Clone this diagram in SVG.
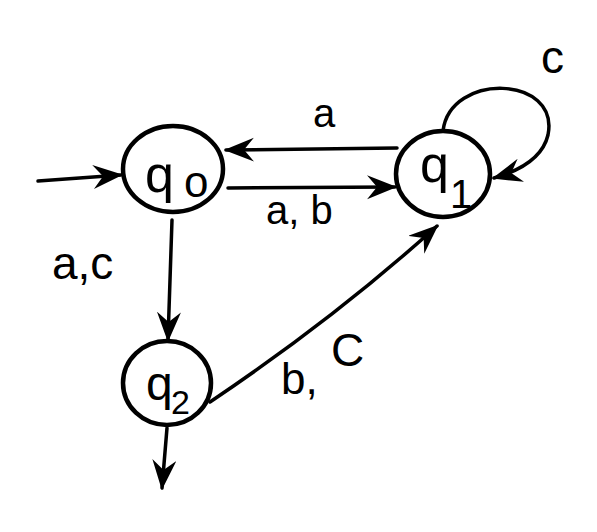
<svg xmlns="http://www.w3.org/2000/svg" width="597" height="532" viewBox="0 0 597 532">
<style>
.st{fill:none;stroke:#000;stroke-width:4.5}
.ed{fill:none;stroke:#000;stroke-width:3.5;stroke-linecap:round;marker-end:url(#ah)}
.lb{font-family:"Liberation Sans",Arial,sans-serif;fill:#000}
</style>
<defs>
<marker id="ah" markerUnits="userSpaceOnUse" markerWidth="32" markerHeight="26" refX="28" refY="12" orient="auto">
<path d="M0,0 L30,12 L0,24 L10,12 z" fill="#000"/>
</marker>
</defs>
<rect width="597" height="532" fill="#fff"/>
<g id="edges">
<path class="ed" d="M38,181 L121,175"/>
<path class="ed" d="M397,148 L226,150"/>
<path class="ed" d="M228,188 L395,187"/>
<path class="ed" d="M172,220 L168,340"/>
<path class="ed" d="M210,402 Q335,318 437,226"/>
<path class="ed" d="M167,428 L162,488"/>
<path class="ed" d="M443,131 C450,72 560,75 548,135 C542,160 515,172 494,178"/>
<text class="lb" x="313" y="127" font-size="40">a</text>
<text class="lb" x="266" y="224" font-size="40">a, b</text>
<text class="lb" x="52" y="279" font-size="46">a,c</text>
<text class="lb" x="281" y="394" font-size="44">b,<tspan x="331" y="366" font-size="46">C</tspan></text>
<text class="lb" x="541" y="73" font-size="46">c</text>
</g>
<g id="q0">
<ellipse class="st" cx="173" cy="169" rx="50" ry="43"/>
<text class="lb" x="145" y="192" font-size="52">q<tspan x="184" y="197" font-size="44">o</tspan></text>
</g>
<g id="q1">
<ellipse class="st" cx="443" cy="174" rx="47" ry="43"/>
<text class="lb" x="420" y="182" font-size="52">q<tspan x="450" y="208" font-size="40">1</tspan></text>
</g>
<g id="q2">
<ellipse class="st" cx="167" cy="383" rx="44" ry="42"/>
<text class="lb" x="146" y="400" font-size="48">q<tspan x="171" y="414" font-size="34">2</tspan></text>
</g>
</svg>
